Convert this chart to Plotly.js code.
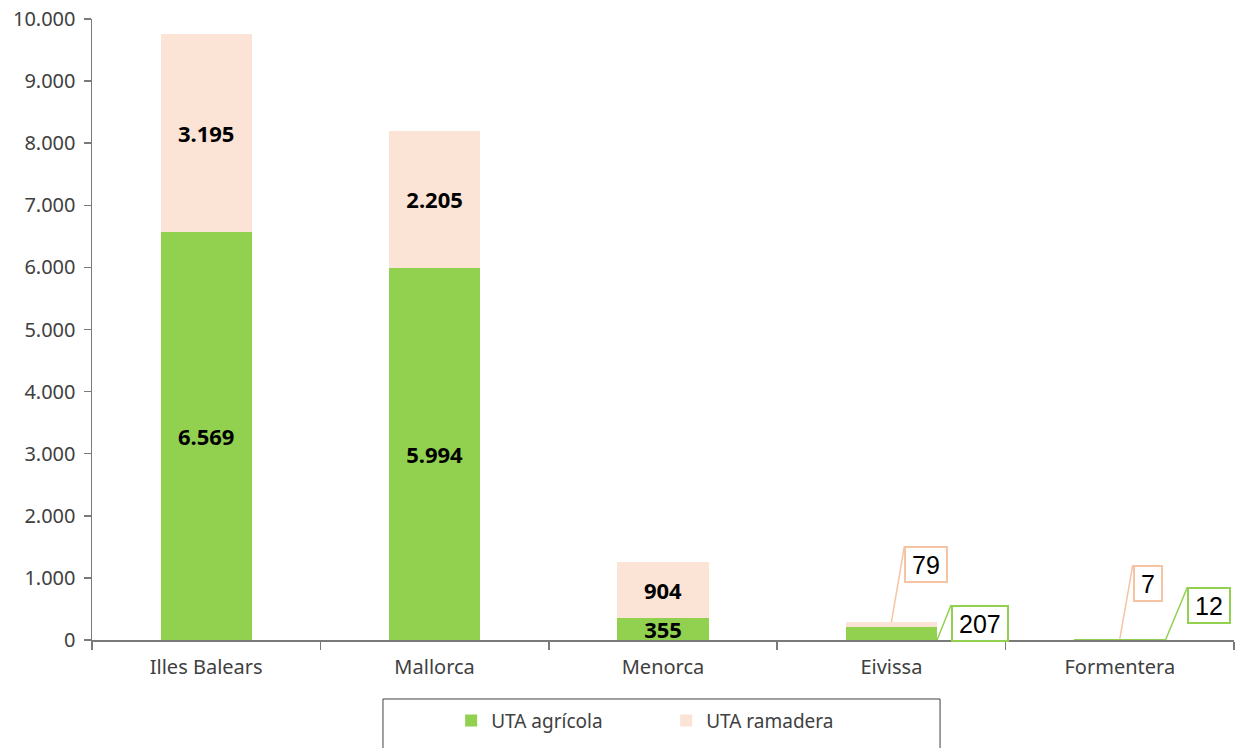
<!DOCTYPE html>
<html>
<head>
<meta charset="utf-8">
<script src="https://cdn.plot.ly/plotly-3.0.1.min.js"></script>
<style>
  html, body { margin: 0; padding: 0; background: #fff; }
  #chart { width: 1237px; height: 748px; }
</style>
</head>
<body>
<div id="chart"></div>
<script>
// Data
const islands = ['Illes Balears', 'Mallorca', 'Menorca', 'Eivissa', 'Formentera'];
const utaAgricola = [6569, 5994, 355, 207, 12];
const utaRamadera = [3195, 2205, 904, 79, 7];
const seriesNames = ['UTA agrícola', 'UTA ramadera'];

const green = '#92D050';
const peach = '#FBE4D6';
const peachLine = '#F6C3A3';

// 1.234 style numbers
function fmt(v) {
    return String(v).replace(/\B(?=(\d{3})+(?!\d))/g, '.');
}

// big bars get an inside label, the small ones get a callout box
function insideText(vals) {
    return vals.map(v => v >= 300 ? fmt(v) : '');
}

const labelFont = {family: 'Noto Sans', size: 22, color: '#000000', weight: 'bold'};

const traces = [{
    x: islands,
    y: utaAgricola,
    name: seriesNames[0],
    type: 'bar',
    marker: {color: green},
    text: insideText(utaAgricola),
    textposition: 'inside',
    insidetextanchor: 'middle',
    constraintext: 'none',
    textangle: 0,
    textfont: labelFont,
    hoverinfo: 'skip'
}, {
    x: islands,
    y: utaRamadera,
    name: seriesNames[1],
    type: 'bar',
    marker: {color: peach},
    text: insideText(utaRamadera),
    textposition: 'inside',
    insidetextanchor: 'middle',
    constraintext: 'none',
    textangle: 0,
    textfont: labelFont,
    hoverinfo: 'skip'
}];

// Callout boxes for Eivissa and Formentera
const calloutFont = {family: 'Liberation Sans', size: 25, color: '#000000'};
function callout(i, value, xoff, yval, ax, ay, color) {
    return {
        x: i + xoff, y: yval, xref: 'x', yref: 'y',
        text: fmt(value),
        showarrow: true, arrowhead: 0, arrowwidth: 1.5, arrowcolor: color,
        ax: ax, ay: ay,
        xanchor: 'left', yanchor: 'top',
        height: 21,
        bordercolor: color, borderwidth: 2, borderpad: 6,
        bgcolor: '#ffffff',
        font: calloutFont
    };
}

const annotations = [
    callout(3, utaRamadera[3], 0, utaAgricola[3] + utaRamadera[3], 13, -76, peachLine),
    callout(3, utaAgricola[3], 0.2, 0, 14, -35, green),
    callout(4, utaRamadera[4], 0, utaAgricola[4] + utaRamadera[4], 13, -74, peachLine),
    callout(4, utaAgricola[4], 0.2, 0, 22, -53, green)
];

const axisColor = '#7a7a7a';
const tickFont = {family: 'Noto Sans', size: 20, color: '#404040'};

const layout = {
    width: 1237,
    height: 748,
    margin: {l: 92, r: 3, t: 19, b: 108},
    barmode: 'stack',
    bargap: 0.6,
    separators: ',.',
    paper_bgcolor: '#ffffff',
    plot_bgcolor: '#ffffff',
    showlegend: true,
    legend: {
        orientation: 'h',
        x: 0.3145, xanchor: 'left',
        y: -0.13, yanchor: 'middle',
        entrywidth: 170, entrywidthmode: 'pixels',
        font: {family: 'Noto Sans', size: 19, color: '#404040'},
        traceorder: 'normal',
        bgcolor: 'rgba(0,0,0,0)'
    },
    xaxis: {
        type: 'category',
        showgrid: false,
        showline: true, linecolor: axisColor, linewidth: 1.5,
        ticks: 'outside', tickson: 'boundaries', ticklen: 8, tickcolor: axisColor, tickwidth: 1.5,
        tickfont: tickFont,
        ticklabelstandoff: 8,
        zeroline: false,
        fixedrange: true
    },
    yaxis: {
        range: [0, 10000],
        dtick: 1000,
        tickformat: ',d',
        showgrid: false,
        showline: true, linecolor: axisColor, linewidth: 1.5,
        ticks: 'outside', ticklen: 7, tickcolor: axisColor, tickwidth: 1.5,
        tickfont: tickFont,
        ticklabelstandoff: 4,
        zeroline: false,
        fixedrange: true
    },
    shapes: [{
        // legend frame, running off the bottom of the picture
        type: 'rect', xref: 'paper', yref: 'paper',
        x0: 0.2548, x1: 0.7426, y0: -0.25, y1: -0.095,
        line: {color: '#404040', width: 1},
        fillcolor: 'rgba(0,0,0,0)'
    }],
    annotations: annotations
};

Plotly.newPlot('chart', traces, layout, {displayModeBar: false, staticPlot: true});
</script>
</body>
</html>
